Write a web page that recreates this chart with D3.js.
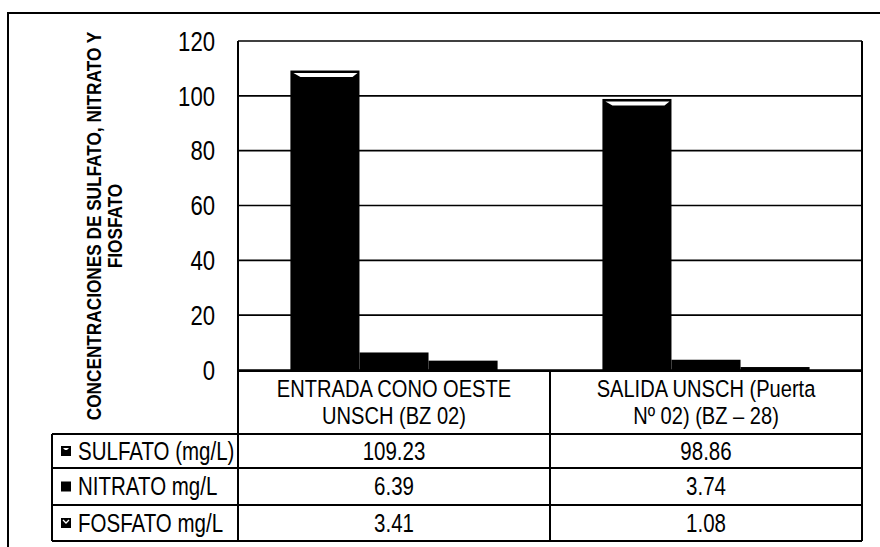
<!DOCTYPE html>
<html>
<head>
<meta charset="utf-8">
<script src="https://cdn.jsdelivr.net/npm/d3@7"></script>
<style>
  html, body { margin: 0; padding: 0; background: #fff; }
  svg text { font-family: "Liberation Sans", Arial, Helvetica, sans-serif; fill: #000; }
</style>
</head>
<body>
<svg id="chart" width="880" height="547"></svg>
<script>
// Sampling points (two lines each, as printed in the table header)
const categories = ["ENTRADA CONO OESTE UNSCH (BZ 02)", "SALIDA UNSCH (Puerta Nº 02) (BZ – 28)"];
const categoryLines = [["ENTRADA CONO OESTE", "UNSCH (BZ 02)"], ["SALIDA UNSCH (Puerta", "Nº 02) (BZ – 28)"]];
const seriesNames = ["SULFATO (mg/L)", "NITRATO mg/L", "FOSFATO mg/L"];
const sulfato = [109.23, 98.86];
const nitrato = [6.39, 3.74];
const fosfato = [3.41, 1.08];
const yTicks = [0, 20, 40, 60, 80, 100, 120];
const yTitle = ["CONCENTRACIONES DE SULFATO, NITRATO Y", "FIOSFATO"];

const seriesValues = [sulfato, nitrato, fosfato];

const svg = d3.select("#chart");
const NARROW = 0.82; // condensed lettering

const plot = { left: 238, right: 862, top: 41, bottom: 370 };
const table = { left: 52, headerBottom: 434, rowH: [34, 37, 36] };

// condensed text helper: places a label at (x, y), squeezed horizontally
function label(parent, x, y, str, opts = {}) {
  const rot = opts.rotate ? ` rotate(${opts.rotate})` : "";
  return parent.append("text")
    .attr("transform", `translate(${x},${y})${rot} scale(${NARROW},1)`)
    .attr("text-anchor", opts.anchor || "start")
    .attr("font-size", opts.size || 25)
    .attr("font-weight", opts.weight || "normal")
    .attr("dy", opts.dy || null)
    .text(str);
}

// Scales
const y = d3.scaleLinear().domain([0, 120]).range([plot.bottom, plot.top]);
const x0 = d3.scaleBand().domain(categories).range([plot.left, plot.right])
  .paddingInner(0.336).paddingOuter(0.168);
const x1 = d3.scaleBand().domain(seriesNames).range([0, x0.bandwidth()]);
const colLeft = c => x0(c) - x0.step() * x0.paddingInner() / 2;
const colCenter = c => x0(c) + x0.bandwidth() / 2;

// Outer frame
svg.append("path")
  .attr("d", "M8,547 L8,13 L880,13")
  .attr("fill", "none").attr("stroke", "#000").attr("stroke-width", 2);

// Horizontal gridlines
svg.append("g").selectAll("line").data(yTicks).join("line")
  .attr("x1", plot.left).attr("x2", plot.right)
  .attr("y1", d => y(d)).attr("y2", d => y(d))
  .attr("stroke", "#000").attr("stroke-width", 1.6);

// y axis labels
const yl = svg.append("g");
yTicks.forEach(t => label(yl, 215, y(t), d3.format("d")(t), { anchor: "end", size: 27, dy: "0.36em" }));

// Plot frame (left and right sides run down through the table)
svg.append("line").attr("x1", plot.left).attr("x2", plot.left)
  .attr("y1", plot.top).attr("y2", 541).attr("stroke", "#000").attr("stroke-width", 2);
svg.append("line").attr("x1", plot.right).attr("x2", plot.right)
  .attr("y1", plot.top).attr("y2", 541).attr("stroke", "#000").attr("stroke-width", 2);

// Bars
const groups = svg.append("g").selectAll("g").data(categories).join("g")
  .attr("transform", c => `translate(${x0(c)},0)`);

groups.each(function(c, ci) {
  const g = d3.select(this);
  seriesNames.forEach((s, si) => {
    const v = seriesValues[si][ci];
    const bx = x1(s), bw = x1.bandwidth();
    g.append("rect")
      .attr("x", bx).attr("y", y(v))
      .attr("width", bw).attr("height", y(0) - y(v))
      .attr("fill", "#000");
    // light bevel on the top face of the tall bars
    if (y(0) - y(v) > 20) {
      const t = y(v);
      g.append("path")
        .attr("d", `M${bx + 3},${t + 2.5} L${bx + bw - 2},${t + 2.5} L${bx + bw - 7},${t + 6.5} L${bx + 10},${t + 6.5} Z`)
        .attr("fill", "#fff");
    }
  });
});

// Table
const rowTops = [table.headerBottom];
table.rowH.forEach((h, i) => rowTops.push(rowTops[i] + h));
const tableBottom = rowTops[rowTops.length - 1];

const tg = svg.append("g");
tg.append("line").attr("x1", plot.left).attr("x2", plot.right)
  .attr("y1", plot.bottom + 1).attr("y2", plot.bottom + 1)
  .attr("stroke", "#000").attr("stroke-width", 2.2);
rowTops.forEach(t => {
  tg.append("line").attr("x1", table.left).attr("x2", plot.right)
    .attr("y1", t).attr("y2", t).attr("stroke", "#000").attr("stroke-width", 2);
});
tg.append("line").attr("x1", table.left).attr("x2", table.left)
  .attr("y1", table.headerBottom).attr("y2", tableBottom)
  .attr("stroke", "#000").attr("stroke-width", 2);
categories.slice(1).forEach(c => {
  tg.append("line").attr("x1", colLeft(c)).attr("x2", colLeft(c))
    .attr("y1", plot.bottom).attr("y2", tableBottom)
    .attr("stroke", "#000").attr("stroke-width", 2);
});

// header text
categories.forEach((c, ci) => {
  categoryLines[ci].forEach((line, li) => {
    label(tg, colCenter(c), 397 + li * 27, line, { anchor: "middle", size: 24.5 });
  });
});

// series rows: key, name, values
seriesNames.forEach((s, si) => {
  const mid = (rowTops[si] + rowTops[si + 1]) / 2;
  const kx = 61, ky = mid - 5, k = 10;
  tg.append("rect").attr("x", kx).attr("y", ky).attr("width", k).attr("height", k).attr("fill", "#000");
  if (si === 0) {
    tg.append("path").attr("d", `M${kx + 2},${ky + 2} L${kx + 8},${ky + 2} L${kx + 6},${ky + 4} L${kx + 4},${ky + 4} Z`).attr("fill", "#fff");
  } else if (si === 2) {
    tg.append("path").attr("d", `M${kx + 2},${ky + 2} L${kx + 5},${ky + 5} L${kx + 8},${ky + 2}`)
      .attr("fill", "none").attr("stroke", "#fff").attr("stroke-width", 1.3);
  }
  label(tg, 78, mid + 8.5, s, { size: 25 });
  categories.forEach((c, ci) => {
    label(tg, colCenter(c), mid + 8.5, d3.format(".2f")(seriesValues[si][ci]), { anchor: "middle", size: 25 });
  });
});

// y axis title
const titleCenter = 226;
yTitle.forEach((line, i) => {
  label(svg, 101 + i * 21, titleCenter, line, { anchor: "middle", size: 21, weight: "bold", rotate: -90 });
});
</script>
</body>
</html>
